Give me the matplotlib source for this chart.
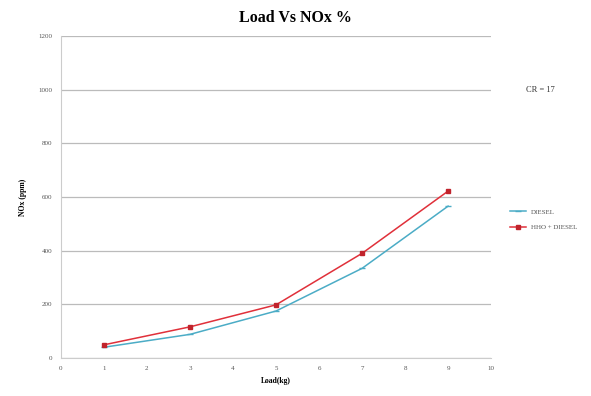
import matplotlib
matplotlib.use("Agg")
import matplotlib.pyplot as plt

load = [1, 3, 5, 7, 9]
diesel = [40, 88, 175, 334, 566]
hho_diesel = [49, 116, 198, 390, 622]
x_ticks = list(range(0, 11))
y_ticks = list(range(0, 1201, 200))

plt.rcParams['font.family'] = ['Liberation Serif', 'DejaVu Serif']

fig = plt.figure(figsize=(5.91, 3.96), dpi=100)
ax = fig.add_axes([0.103, 0.096, 0.728, 0.813])

ax.plot(load, diesel, color='#4bacc6', lw=1.1, marker='_', ms=5, label='DIESEL')
ax.plot(load, hho_diesel, color='#e0303a', lw=1.1, marker='s', ms=3.5,
        mfc='#c0232c', mec='#c0232c', label='HHO + DIESEL')

ax.set_xlim(0, 10)
ax.set_ylim(0, 1200)
ax.set_xticks(x_ticks)
ax.set_yticks(y_ticks)
ax.tick_params(labelsize=5, colors='#555555', length=0, pad=6)
ax.yaxis.grid(True, color='#bbbbbb', lw=0.9)
ax.set_axisbelow(True)
for s in ['top', 'right']:
    ax.spines[s].set_visible(False)
for s in ['left', 'bottom']:
    ax.spines[s].set_color('#cccccc')

fig.text(0.5, 0.955, 'Load Vs NOx %', fontsize=11.5, fontweight='bold',
         ha='center', va='center')
ax.set_xlabel('Load(kg)', fontsize=5.5, fontweight='bold', labelpad=4)
ax.set_ylabel('NOx (ppm)', fontsize=5.5, fontweight='bold', labelpad=8)

fig.text(0.914, 0.772, 'CR = 17', fontsize=6, ha='center', va='center', color='#333333')

ax.legend(loc='center left', bbox_to_anchor=(1.03, 0.43), frameon=False,
          fontsize=5, handlelength=2.2, labelspacing=1.4, labelcolor='#555555')

fig.savefig('out.png', dpi=100)
